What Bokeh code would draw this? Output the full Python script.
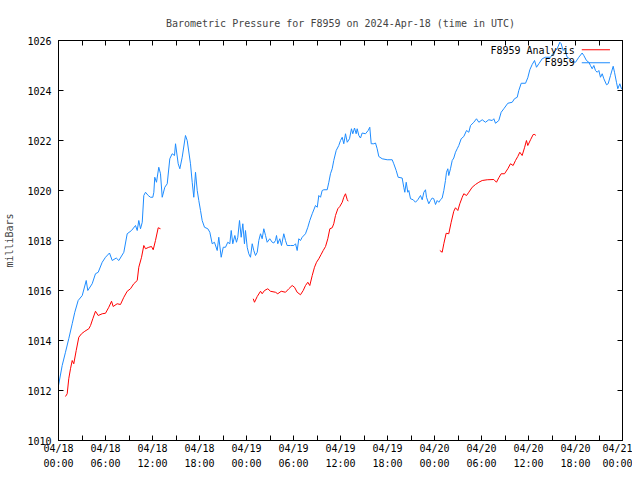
from bokeh.plotting import figure
from bokeh.models import Range1d, FixedTicker, LinearAxis, Label, Arrow
from bokeh.embed import file_html
from bokeh.resources import INLINE

# ---- data (hours since 2024-04-18 00:00 UTC, pressure in mbar) ----
analysis_t = [0.0, 0.47, 0.89, 1.31, 1.75, 2.08, 2.51, 3.03, 3.54, 3.74, 4.30, 4.72, 5.07, 5.58, 6.0, 6.51, 6.86,
              7.37, 7.70, 8.34, 8.77, 9.32, 9.83, 10.05, 10.25, 10.47, 10.69, 10.89, 11.11, 11.45, 11.74, 12.04,
              12.17, 12.29, 12.51, 12.80, 13.02, 13.24, 13.57, 13.88, 14.21, 14.51, 14.81, 14.94, 15.28, 15.49,
              15.79, 16.21, 16.43, 16.85, 17.07, 17.27, 17.49, 17.71, 17.91, 18.13, 18.34, 18.64, 19.06, 19.32,
              19.62, 19.91, 20.26, 20.46, 20.77, 21.03, 21.32, 21.61, 21.87, 22.05, 22.25, 22.51, 22.72, 22.89,
              23.11, 23.32, 23.53, 23.74, 23.87, 24.09, 24.29, 24.51, 24.73, 24.93, 25.15, 25.37, 25.57, 25.79,
              26.0, 26.21, 26.43, 26.64, 26.97, 27.28, 27.48, 27.70, 27.83, 27.99, 28.25, 28.47, 28.76, 28.98,
              29.19, 29.62, 30.04, 30.26, 30.47, 30.68, 30.89, 31.11, 31.53, 31.83, 32.08, 32.39, 32.81, 33.03,
              33.23, 33.45, 33.66, 33.87, 34.30, 34.51, 34.72, 34.94, 35.14, 35.45, 35.78, 36.0, 36.22, 36.42,
              36.64, 36.86, 37.15, 37.40, 37.57, 37.79, 38.0, 38.13, 38.34, 38.55, 38.77, 39.19, 39.53, 39.74,
              39.92, 40.25, 40.47, 40.68, 40.89, 41.32, 41.96, 42.60, 42.80, 43.11, 43.36, 43.87, 44.08, 44.21,
              44.39, 44.59, 44.72, 44.94, 45.28, 45.57, 45.87, 46.21, 46.43, 46.64, 46.85, 46.98, 47.27, 47.49,
              47.71, 47.91, 48.13, 48.34, 48.55, 48.77, 48.98, 49.19, 49.40, 49.53, 49.70, 49.82, 50.04, 50.26,
              50.46, 50.68, 50.90, 51.10, 51.41, 51.74, 52.09, 52.38, 52.60, 53.02, 53.36, 53.66, 54.09, 54.51,
              54.93, 55.37, 55.57, 55.79, 56.21, 56.51, 56.85, 57.36, 57.92, 58.21, 58.56, 58.76, 59.07, 59.62,
              59.91, 60.17, 60.47, 60.77, 61.02, 61.32, 61.75, 62.17, 62.81, 63.23, 63.66, 64.0, 64.17, 64.43,
              64.60, 64.94, 65.28, 65.58, 66.0, 66.42, 66.85, 67.06, 67.40, 67.70, 67.91, 68.13, 68.34, 68.55,
              68.77, 68.98, 69.19, 69.41, 69.62, 69.96, 70.17, 70.47, 70.81, 70.98, 71.23, 71.40, 71.66, 71.87, 72.0]
analysis_p = [1012.2, 1013.0, 1013.53, 1014.07, 1014.67, 1015.13, 1015.6, 1015.8, 1016.4, 1016.0, 1016.27, 1016.67,
              1016.73, 1017.13, 1017.33, 1017.5, 1017.2, 1017.3, 1017.2, 1017.53, 1018.27, 1018.4, 1018.6, 1018.4,
              1018.8, 1018.47, 1018.73, 1019.8, 1019.93, 1019.8, 1019.73, 1019.73, 1019.93, 1020.53, 1020.33,
              1020.93, 1020.67, 1019.73, 1020.13, 1020.27, 1021.27, 1021.47, 1021.4, 1021.87, 1021.07, 1020.87,
              1021.33, 1022.2, 1022.0, 1021.07, 1020.33, 1019.73, 1020.73, 1020.0, 1019.6, 1019.2, 1018.8, 1018.53,
              1018.47, 1018.33, 1017.87, 1017.93, 1017.6, 1018.13, 1017.33, 1017.73, 1017.73, 1017.93, 1017.87,
              1018.4, 1017.87, 1018.2, 1017.93, 1018.13, 1018.8, 1018.13, 1018.67, 1017.87, 1018.4, 1017.73,
              1017.47, 1017.33, 1017.87, 1017.6, 1017.4, 1017.53, 1018.0, 1018.27, 1018.07, 1018.47, 1018.2,
              1017.93, 1018.07, 1017.93, 1017.9, 1018.0, 1018.2, 1017.87, 1018.07, 1017.8, 1018.27, 1018.0,
              1017.8, 1017.8, 1017.8, 1017.87, 1017.6, 1018.07, 1018.0, 1018.13, 1018.27, 1018.53, 1018.8,
              1019.07, 1019.4, 1019.33, 1019.8, 1019.73, 1020.0, 1020.03, 1020.03, 1020.33, 1020.67, 1020.87,
              1021.2, 1021.6, 1021.8, 1022.0, 1022.13, 1021.87, 1022.27, 1021.93, 1022.07, 1022.47, 1022.27,
              1022.5, 1022.27, 1022.47, 1022.2, 1022.1, 1022.3, 1022.27, 1022.4, 1022.53, 1021.87, 1021.87,
              1021.9, 1021.67, 1021.36, 1021.27, 1021.23, 1021.23, 1021.07, 1020.8, 1020.53, 1020.5, 1020.13,
              1019.93, 1020.33, 1019.93, 1020.0, 1019.67, 1019.63, 1019.53, 1019.63, 1019.8, 1019.63, 1019.93,
              1020.03, 1019.73, 1019.47, 1019.6, 1019.7, 1019.67, 1019.44, 1019.6, 1019.53, 1019.63, 1019.7,
              1020.0, 1020.4, 1020.73, 1020.87, 1020.6, 1020.87, 1021.2, 1021.3, 1021.53, 1021.67, 1021.8,
              1022.07, 1022.16, 1022.4, 1022.33, 1022.6, 1022.73, 1022.87, 1022.73, 1022.83, 1022.73, 1022.83,
              1022.8, 1022.87, 1022.69, 1022.8, 1023.13, 1023.27, 1023.49, 1023.53, 1023.67, 1023.73, 1024.0,
              1024.29, 1024.29, 1024.51, 1024.83, 1025.04, 1025.2, 1024.93, 1025.07, 1025.27, 1025.33, 1025.33,
              1025.53, 1025.67, 1025.93, 1025.87, 1025.6, 1025.67, 1025.33, 1025.27, 1025.16, 1025.13, 1025.33,
              1025.5, 1025.4, 1025.2, 1025.13, 1025.0, 1024.87, 1025.0, 1024.8, 1024.73, 1024.8, 1024.53,
              1024.67, 1024.47, 1024.23, 1024.27, 1024.6, 1024.97, 1024.73, 1024.33, 1024.07, 1024.27, 1024.07,
              1024.1]

obs1_t = [0.89, 1.11, 1.31, 1.53, 1.75, 1.95, 2.26, 2.59, 2.94, 3.36, 3.87, 4.09, 4.38, 4.72, 5.07, 5.58, 6.0,
          6.42, 6.77, 6.98, 7.49, 7.91, 8.34, 8.77, 9.19, 9.61, 10.05, 10.25, 10.60, 10.89, 11.11, 11.53, 11.87,
          12.09, 12.38, 12.73, 13.02]
obs1_p = [1011.76, 1011.87, 1012.47, 1012.87, 1013.2, 1013.07, 1013.6, 1014.13, 1014.27, 1014.37, 1014.47,
          1014.6, 1014.87, 1015.17, 1015.0, 1015.07, 1015.09, 1015.33, 1015.57, 1015.36, 1015.47, 1015.44,
          1015.73, 1015.97, 1016.07, 1016.27, 1016.4, 1016.93, 1017.33, 1017.8, 1017.67, 1017.73, 1017.76,
          1017.63, 1018.0, 1018.51, 1018.47]

obs2_t = [24.86, 25.02, 25.37, 25.79, 26.0, 26.30, 26.72, 27.06, 27.70, 27.99, 28.43, 28.98, 29.40, 29.83, 30.13,
          30.47, 30.89, 31.24, 31.53, 31.83, 32.08, 32.39, 32.68, 32.94, 33.23, 33.54, 33.79, 34.09, 34.38, 34.64,
          34.94, 35.14, 35.36, 35.66, 35.91, 36.22, 36.42, 36.64, 36.86, 36.98]
obs2_p = [1015.67, 1015.53, 1015.76, 1015.97, 1015.87, 1016.0, 1016.07, 1015.97, 1015.93, 1015.87, 1015.97,
          1015.93, 1016.07, 1016.2, 1016.13, 1015.93, 1015.83, 1016.0, 1016.2, 1016.33, 1016.2, 1016.6, 1016.93,
          1017.13, 1017.27, 1017.45, 1017.6, 1017.76, 1018.07, 1018.47, 1018.51, 1018.67, 1019.0, 1019.27,
          1019.36, 1019.53, 1019.73, 1019.87, 1019.63, 1019.57]

obs3_t = [48.68, 48.98, 49.19, 49.49, 49.82, 50.13, 50.46, 50.68, 50.98, 51.23, 51.54, 51.74, 52.09, 52.38, 52.81,
          53.23, 53.66, 54.09, 54.73, 55.57, 55.91, 56.21, 56.51, 56.94, 57.36, 57.70, 58.04, 58.34, 58.63, 58.89,
          59.19, 59.49, 59.74, 59.91, 60.26, 60.60, 60.81, 60.94]
obs3_p = [1017.6, 1017.53, 1017.87, 1018.29, 1018.27, 1018.73, 1019.17, 1019.31, 1019.2, 1019.47, 1019.73,
          1019.87, 1019.8, 1019.93, 1020.13, 1020.24, 1020.33, 1020.4, 1020.43, 1020.44, 1020.33, 1020.51,
          1020.67, 1020.67, 1020.87, 1021.07, 1021.0, 1021.2, 1021.36, 1021.53, 1021.4, 1021.71, 1022.0, 1021.8,
          1022.03, 1022.24, 1022.24, 1022.2]

x_ticks = [0, 6, 12, 18, 24, 30, 36, 42, 48, 54, 60, 66, 72]
x_tick_labels = ["04/18\n00:00", "04/18\n06:00", "04/18\n12:00", "04/18\n18:00",
                 "04/19\n00:00", "04/19\n06:00", "04/19\n12:00", "04/19\n18:00",
                 "04/20\n00:00", "04/20\n06:00", "04/20\n12:00", "04/20\n18:00", "04/21\n00:00"]
x_minor = [3, 9, 15, 21, 27, 33, 39, 45, 51, 57, 63, 69]
y_ticks = [1010, 1012, 1014, 1016, 1018, 1020, 1022, 1024, 1026]

FONT = "DejaVu Sans Mono"
FS = "10px"
BLUE = "#1e8cff"
RED = "#ff0000"

p = figure(width=632, height=472, output_backend="svg", toolbar_location=None,
           x_range=Range1d(0, 72), y_range=Range1d(1010, 1026),
           min_border_left=58, min_border_right=10, min_border_top=40, min_border_bottom=32,
           title="Barometric Pressure for F8959 on 2024-Apr-18 (time in UTC)")
p.title.align = "center"
p.title.text_font = FONT
p.title.text_font_size = FS
p.title.text_font_style = "normal"
p.title.standoff = 24
p.xgrid.visible = False
p.ygrid.visible = False
p.outline_line_color = "black"
p.outline_line_alpha = 1.0
p.background_fill_color = "white"
p.border_fill_color = "white"

xt = FixedTicker(ticks=x_ticks, minor_ticks=x_minor)
yt = FixedTicker(ticks=y_ticks, minor_ticks=[])

def style_axis(ax, show_labels):
    ax.axis_line_color = "black"
    ax.major_tick_line_color = "black"
    ax.minor_tick_line_color = "black"
    ax.major_tick_in = 5
    ax.major_tick_out = 0
    ax.minor_tick_in = 5
    ax.minor_tick_out = 0
    ax.major_label_text_font = FONT
    ax.major_label_text_font_size = FS
    ax.major_label_text_color = "black"
    ax.axis_label_text_font = FONT
    ax.axis_label_text_font_size = FS
    ax.axis_label_text_font_style = "normal"
    if not show_labels:
        ax.major_label_text_font_size = "0px"
        ax.major_label_text_alpha = 0

bx = p.xaxis[0]
bx.ticker = xt
bx.major_label_overrides = {t: lab for t, lab in zip(x_ticks, x_tick_labels)}
style_axis(bx, True)
bx.major_label_standoff = 2
bx.major_label_text_line_height = 1.4

ly = p.yaxis[0]
ly.ticker = yt
style_axis(ly, True)
ly.major_label_standoff = 7
ly.axis_label = "milliBars"
ly.axis_label_standoff = 9

tx = LinearAxis(ticker=FixedTicker(ticks=x_ticks, minor_ticks=x_minor))
style_axis(tx, False)
p.add_layout(tx, "above")
ry = LinearAxis(ticker=FixedTicker(ticks=y_ticks, minor_ticks=[]))
style_axis(ry, False)
p.add_layout(ry, "right")

p.line(analysis_t, analysis_p, line_color=BLUE, line_width=1)
p.line(obs1_t, obs1_p, line_color=RED, line_width=1)
p.line(obs2_t, obs2_p, line_color=RED, line_width=1)
p.line(obs3_t, obs3_p, line_color=RED, line_width=1)

# key (gnuplot style: text right-aligned, sample to its right)
p.add_layout(Label(x=65.9, y=1025.62, text="F8959 Analysis", text_align="right", text_baseline="middle",
                   text_font=FONT, text_font_size=FS, text_color="black"))
p.add_layout(Label(x=65.9, y=1025.11, text="F8959", text_align="right", text_baseline="middle",
                   text_font=FONT, text_font_size=FS, text_color="black"))
p.add_layout(Arrow(end=None, x_start=66.8, y_start=1025.63, x_end=70.4, y_end=1025.63, line_color=RED, line_width=1))
p.add_layout(Arrow(end=None, x_start=66.8, y_start=1025.11, x_end=70.4, y_end=1025.11, line_color=BLUE, line_width=1))

open("out.html", "w").write(file_html(p, INLINE))
